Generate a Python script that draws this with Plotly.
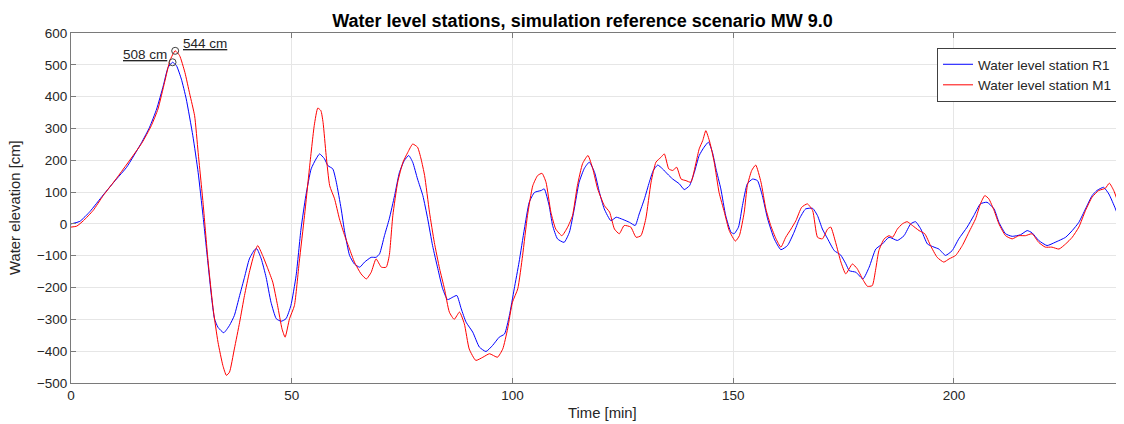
import plotly.graph_objects as go

# Station R1 (blue)
r1_time = [0, 2, 4.3, 7.3, 10.3, 12.6, 16, 17.8, 19.4, 20.9, 22, 23.0, 23.9, 25, 26.1, 27.6, 28.8, 29.9,
           31, 31.8, 32.5, 33.3, 34.6, 35.9, 37, 38.2, 39.3, 40.4, 41.6, 42.1, 43.1, 44.2, 45.3, 46.5,
           47.6, 48.7, 49.8, 51, 52.1, 53.2, 54.4, 55.5, 56.3, 57.4, 58.2, 59.3, 60.1, 61.2, 62, 63.1,
           64.2, 65.4, 66.5, 68, 69.1, 69.9, 71, 72.1, 73.3, 74.4, 75.5, 76.5, 77.4, 78.5, 79.7, 80.8,
           81.9, 83.1, 84.2, 85.3, 86.5, 87.4, 88.4, 89.5, 91, 92.5, 94, 95.5, 97, 98.2, 99.3, 100.4,
           101.5, 102.7, 103.8, 105, 106.5, 107.2, 108.3, 109.1, 110.2, 111.7, 112.9, 114, 115.1, 116.3,
           117.4, 118.6, 119.7, 120.8, 122.3, 123.5, 125, 126.5, 127.8, 128.7, 129.9, 131, 131.9, 132.9,
           134, 135.1, 136.3, 137.8, 138.9, 140.1, 141.2, 142.3, 143.4, 144.4, 145.3, 146.1, 147.2, 148.3,
           149.5, 150.2, 151.2, 152.1, 153.2, 154.4, 155.5, 156.6, 157.8, 159.3, 160.8, 162.3, 163.8, 165,
           166.4, 168, 169.1, 170.2, 171.4, 172.9, 174.3, 175.5, 176.3, 177.8, 179.4, 180.8, 182.3, 183.8,
           185.3, 187.2, 188.7, 190.2, 191.3, 192.5, 194, 195.5, 196.6, 198.1, 199.6, 201.1, 203, 204.5,
           206, 207.5, 209.1, 210.2, 211.7, 213.2, 215.1, 216.6, 217.7, 219.2, 221.1, 222.9, 225.3, 226.8,
           228.3, 229.8, 231.3, 232.4, 233.9, 235.1, 236.6, 237.7, 238.2]
r1_level = [0, 8, 39, 91, 141, 178, 256, 304, 361, 434, 492, 508, 497, 455, 393, 277, 162, 26,
            -120, -225, -298, -325, -342, -319, -288, -225, -168, -110, -81, -78, -110, -168, -246, -298,
            -306, -298, -257, -162, -16, 89, 173, 204, 220, 205, 183, 173, 131, 47, -26, -99,
            -126, -136, -120, -105, -105, -94, -37, 16, 89, 162, 199, 215, 194, 141, 89, 16,
            -68, -141, -204, -238, -230, -225, -267, -309, -340, -387, -401, -382, -356, -346, -288, -204,
            -120, -16, 68, 99, 105, 110, 58, -5, -47, -58, -26, 47, 131, 175,
            194, 162, 99, 47, 10, 21, 14, 5, -5, 31, 79, 131, 168, 185,
            173, 157, 141, 126, 108, 120, 162, 215, 241, 257, 225, 173, 110, 26,
            -26, -31, -10, 58, 126, 141, 136, 89, 16, -47, -81, -68, -26, 16,
            47, 49, 26, -16, -47, -84, -97, -125, -147, -152, -173, -136, -79, -63,
            -42, -52, -37, 0, 7, -16, -63, -73, -79, -99, -84, -47, -10, 26,
            63, 68, 47, 5, -31, -39, -34, -21, -28, -52, -68, -58, -42, -21,
            5, 47, 89, 105, 115, 94, 47, 5, -7]

# Station M1 (red)
m1_time = [0, 1.3, 2.8, 5, 7.3, 10.3, 16, 18.2, 19.7, 21.2, 22.4, 23.6, 24.6, 25.8, 26.9, 28, 28.8, 29.9,
           31, 32.2, 33.3, 34.4, 35.2, 35.9, 37, 38.2, 39.3, 40.4, 41.6, 42.3, 43.4, 44.6, 45.7, 46.8,
           47.8, 48.5, 49.5, 50.6, 51.7, 52.9, 54, 55.1, 55.9, 56.6, 57.1, 57.8, 58.6, 59.7, 60.8, 62,
           63.1, 64.2, 65.7, 66.9, 68, 69.1, 70.3, 71.4, 72.1, 72.9, 74, 75.2, 76.3, 77.4, 78.5, 79.3,
           80.1, 81.2, 82.3, 83.5, 84.6, 85.7, 86.8, 88, 89.1, 90.2, 91.7, 93.3, 94.8, 96.6, 97.8, 98.9,
           100, 101.2, 102.3, 103.4, 104.6, 105.7, 106.7, 107.6, 108.7, 109.8, 111.2, 112.5, 113.6, 114.7,
           115.9, 117.1, 118.2, 119.3, 120.8, 122, 123.1, 124.2, 125.3, 126.8, 128, 129.1, 130.2, 131.4,
           132.5, 133.6, 134.4, 135.4, 136.3, 137.2, 138.2, 139.3, 140.4, 141.6, 142.3, 143.1, 143.8, 144.7,
           145.7, 146.8, 148, 149.1, 150.5, 151.4, 152.5, 153.2, 154.2, 155.1, 156.3, 157.4, 158.5, 159.7,
           160.8, 161.9, 163.1, 164.2, 165.5, 166.8, 168, 169.1, 170.2, 171.4, 172.1, 173.2, 174.4, 175.5,
           177, 178.1, 179.3, 180.4, 181.5, 182.3, 183, 184.2, 185.3, 186.1, 187.2, 188.3, 189.4, 190.6,
           192.1, 193.4, 194.7, 196.2, 197.7, 198.9, 200.4, 201.9, 203.4, 204.9, 206, 207, 207.9, 209.1,
           210.2, 211.7, 213.2, 214.7, 216.2, 217.7, 219.2, 220.7, 222.2, 223.8, 225.3, 226.8, 228.3, 229.8,
           231.3, 232.8, 234.3, 235.2, 236.2, 237.3, 238.2]
m1_level = [-10, -7, 10, 42, 89, 143, 253, 309, 361, 445, 513, 544, 529, 476, 408, 340, 225, 68,
            -110, -267, -372, -445, -476, -466, -393, -309, -225, -152, -89, -68, -99, -141, -183, -257,
            -330, -356, -298, -257, -120, 26, 173, 309, 364, 356, 319, 215, 120, 79, 16, -37,
            -79, -120, -157, -173, -152, -110, -136, -136, -99, 26, 131, 194, 225, 251, 241, 204,
            152, 37, -58, -141, -204, -277, -300, -277, -314, -393, -429, -419, -408, -419, -393, -330,
            -246, -204, -99, 26, 120, 152, 159, 131, 37, -16, -37, -10, 26, 120,
            190, 215, 173, 110, 58, 37, -16, -31, -5, -10, -42, -37, 16, 131,
            194, 209, 220, 173, 168, 178, 141, 136, 131, 194, 236, 262, 293, 257,
            194, 99, 37, -21, -54, -37, 37, 120, 168, 185, 131, 47, -5, -47,
            -73, -42, -16, 10, 52, 63, 42, -42, -47, -16, -10, -58, -120, -157,
            -126, -141, -173, -196, -194, -141, -84, -47, -37, -42, -16, 0, 7, -5,
            -21, -31, -68, -105, -120, -110, -99, -68, -26, 16, 63, 89, 79, 42,
            0, -37, -47, -37, -37, -31, -58, -73, -73, -79, -63, -42, -10, 42,
            84, 105, 112, 128, 105, 63, 31]

x_ticks = [0, 50, 100, 150, 200]
y_ticks = [-500, -400, -300, -200, -100, 0, 100, 200, 300, 400, 500, 600]

FONT = "Liberation Sans, Arial, Helvetica, sans-serif"
TXT = "#262626"
AX = "#7a7a7a"
GRID = "#e6e6e6"
FS = 13.5

# the page body adds an 8px offset; size the figure so it fits the 1124x424 window
O = 8
W, H = 1124 - O, 424 - O
ML, MR, MT, MB = 71 - O, 1, 33 - O, 41
PW, PH = W - ML - MR, H - MT - MB

fig = go.Figure()
fig.add_trace(go.Scatter(x=r1_time, y=r1_level, mode="lines", name="Water level station R1",
                         line=dict(color="#0000ff", width=1, shape="spline", smoothing=0.5)))
fig.add_trace(go.Scatter(x=m1_time, y=m1_level, mode="lines", name="Water level station M1",
                         line=dict(color="#ff0000", width=1, shape="spline", smoothing=0.5)))

# peak markers
ib = r1_level.index(max(r1_level))
ir = m1_level.index(max(m1_level))
fig.add_trace(go.Scatter(x=[r1_time[ib], m1_time[ir]], y=[r1_level[ib], m1_level[ir]], mode="markers",
                         showlegend=False, hoverinfo="skip",
                         marker=dict(symbol="circle-open", size=7, color="#404040", line=dict(width=1))))

fig.add_annotation(x=r1_time[ib], y=r1_level[ib], text=f"{max(r1_level)} cm", showarrow=False,
                   xanchor="right", yanchor="bottom", xshift=-4, yshift=-2,
                   font=dict(family=FONT, size=FS, color=TXT, lineposition="under"))
fig.add_annotation(x=m1_time[ir], y=m1_level[ir], text=f"{max(m1_level)} cm", showarrow=False,
                   xanchor="left", yanchor="bottom", xshift=6, yshift=-2,
                   font=dict(family=FONT, size=FS, color=TXT, lineposition="under"))

# axis titles
fig.add_annotation(xref="paper", yref="paper", x=-(ML - (15 - O)) / PW, y=0.5, text="Water elevation [cm]",
                   textangle=-90, showarrow=False, xanchor="center", yanchor="middle",
                   font=dict(family=FONT, size=14.85, color=TXT))
fig.add_annotation(xref="paper", yref="paper", x=(602.5 - 71) / PW, y=-((413 - O) - (H - MB)) / PH,
                   text="Time [min]", showarrow=False, xanchor="center", yanchor="middle",
                   font=dict(family=FONT, size=14.85, color=TXT))

fig.update_layout(
    width=W, height=H,
    margin=dict(l=ML, r=MR, t=MT, b=MB, autoexpand=False),
    paper_bgcolor="white", plot_bgcolor="white",
    font=dict(family=FONT, size=FS, color=TXT),
    title=dict(text="<b>Water level stations, simulation reference scenario MW 9.0</b>",
               x=(582.5 - 71) / PW, xref="paper", xanchor="center",
               yref="container", y=1 - (21 - O) / H, yanchor="middle",
               font=dict(family=FONT, size=18, color="#000000")),
    showlegend=True,
    legend=dict(x=(937 - O - ML) / PW, y=(H - MB - (48 - O)) / PH, xanchor="left", yanchor="top",
                bgcolor="white", bordercolor="#404040", borderwidth=1,
                font=dict(family=FONT, size=FS, color=TXT), tracegroupgap=0),
)
fig.update_xaxes(range=[0, 238.3], tickvals=x_ticks, ticks="inside", ticklen=5, tickcolor=AX,
                 showline=True, linecolor=AX, linewidth=1, mirror="ticks", automargin=False,
                 showgrid=True, gridcolor=GRID, gridwidth=1, zeroline=False,
                 tickfont=dict(family=FONT, size=FS, color=TXT))
fig.update_yaxes(range=[-500, 600], tickvals=y_ticks, ticks="inside", ticklen=5, tickcolor=AX,
                 showline=True, linecolor=AX, linewidth=1, mirror="ticks", automargin=False,
                 showgrid=True, gridcolor=GRID, gridwidth=1, zeroline=False,
                 tickfont=dict(family=FONT, size=FS, color=TXT))

fig.write_html("out.html")
